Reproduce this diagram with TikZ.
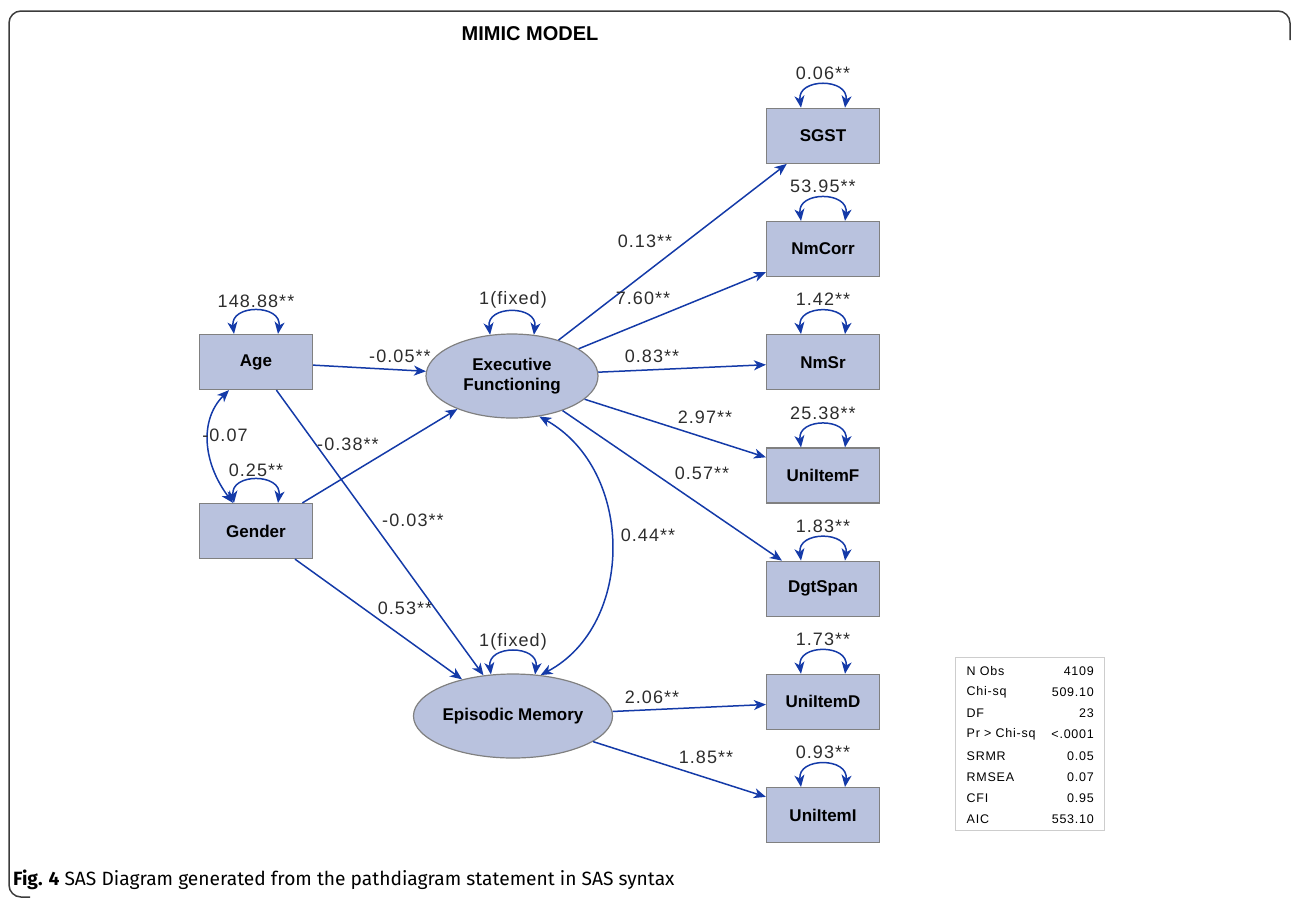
\documentclass[tikz,border=0pt]{standalone}
\usepackage{fontspec}
\setmainfont{Liberation Sans}
\newfontfamily\capfont{Fira Sans}
\usetikzlibrary{arrows.meta,shapes.geometric}
\definecolor{boxfill}{RGB}{185,194,222}
\definecolor{boxline}{RGB}{128,128,128}
\definecolor{pathblue}{RGB}{20,58,168}
\definecolor{labgray}{RGB}{45,45,45}
\definecolor{framecol}{RGB}{60,60,60}
\definecolor{tabline}{RGB}{205,205,205}
\tikzset{
  obsbox/.style={draw=boxline, fill=boxfill, line width=1.2pt, minimum width=113pt, minimum height=55pt, inner sep=0pt, font=\fontsize{17}{20}\selectfont\bfseries},
  latent/.style={draw=boxline, fill=boxfill, line width=1.2pt, ellipse, minimum width=172pt, minimum height=84pt, inner sep=0pt, align=center, font=\fontsize{17}{20}\selectfont\bfseries},
  tipb/.tip={Stealth[length=12pt,width=10pt,inset=3.5pt]},
  pth/.style={draw=pathblue, line width=1.5pt, -tipb},
  cov/.style={draw=pathblue, line width=1.5pt, tipb-tipb},
  lab/.style={font=\fontsize{18}{20}\selectfont\addfontfeatures{LetterSpace=6}, text=labgray, inner sep=0pt},
  tab/.style={font=\fontsize{12.5}{14}\selectfont\addfontfeatures{LetterSpace=6}, text=black, inner sep=0pt},
}
\begin{document}
\begin{tikzpicture}[x=1pt,y=-1pt]
\useasboundingbox (0,0) rectangle (1292,898);
% frame
\draw[framecol, line width=1.5pt, rounded corners=12pt] (30,897) -- (9,897) -- (9,11) -- (1290,11) -- (1290,40);
% title
\node[font=\fontsize{20}{22}\selectfont\bfseries] (title) at (530,34) {MIMIC MODEL};

% nodes
\node[obsbox] (age) at (256,362) {Age};
\node[obsbox] (gender) at (256,531) {Gender};
\node[latent] (ef) at (512,376) {Executive\\Functioning};
\node[latent, minimum width=170pt] (em) at (513,716) {Episodic Memory};
\node[obsbox] (sgst) at (823,135.8) {SGST};
\node[obsbox] (nmcorr) at (823,249) {NmCorr};
\node[obsbox] (nmsr) at (823,362.2) {NmSr};
\node[obsbox] (uf) at (823,475.5) {UniItemF};
\node[obsbox] (dgt) at (823,588.7) {DgtSpan};
\node[obsbox] (ud) at (823,701.9) {UniItemD};
\node[obsbox] (ui) at (823,815.1) {UniItemI};

% paths
\draw[pth] (age) -- (ef);
\draw[pth] (age) -- (em);
\draw[pth] (gender) -- (ef);
\draw[pth] (gender) -- (em);
\draw[pth] (ef) -- (sgst);
\draw[pth] (ef) -- (nmcorr);
\draw[pth] (ef) -- (nmsr);
\draw[pth] (ef) -- (uf);
\draw[pth] (ef) -- (dgt);
\draw[pth] (em) -- (ud);
\draw[pth] (em) -- (ui);

% covariances
\draw[cov] ([xshift=-27pt]age.south) .. controls +(-30,30) and +(-30,-40) .. ([xshift=-23pt]gender.north);
\draw[cov] (ef.-56) .. controls (635,470) and (635,625) .. (em.56);

% self loops
\foreach \n in {age,gender,sgst,nmcorr,nmsr,uf,dgt,ud,ui}{
  \draw[cov] ([xshift=-22pt]\n.north) .. controls +(-4,-30) and +(4,-30) .. ([xshift=22pt]\n.north);
}
\draw[cov] (ef.118) .. controls +(-4,-30) and +(4,-30) .. (ef.62);
\draw[cov] (em.118) .. controls +(-4,-30) and +(4,-30) .. (em.62);

% loop labels
\node[lab] (l1) at (256,301) {148.88**};
\node[lab] (l2) at (256,470) {0.25**};
\node[lab] (l3) at (513,300) {1(fixed)};
\node[lab] (l4) at (513,642) {1(fixed)};
\node[lab] (l5) at (823,73) {0.06**};
\node[lab] (l6) at (823,186) {53.95**};
\node[lab] (l7) at (823,299) {1.42**};
\node[lab] (l8) at (823,413) {25.38**};
\node[lab] (l9) at (823,526) {1.83**};
\node[lab] (l10) at (823,639) {1.73**};
\node[lab] (l11) at (823,752) {0.93**};

% path labels
\node[lab] (p1) at (400,356) {-0.05**};
\node[lab] (p2) at (225,435) {-0.07};
\node[lab] (p3) at (348,444) {-0.38**};
\node[lab] (p4) at (413,520) {-0.03**};
\node[lab] (p5) at (405,608) {0.53**};
\node[lab] (p6) at (645,241) {0.13**};
\node[lab] (p7) at (643,298) {7.60**};
\node[lab] (p8) at (652,356) {0.83**};
\node[lab] (p9) at (705,417) {2.97**};
\node[lab] (p10) at (702,473) {0.57**};
\node[lab] (p11) at (648,535) {0.44**};
\node[lab] (p12) at (652,697) {2.06**};
\node[lab] (p13) at (706,757) {1.85**};

% fit table
\draw[tabline, line width=1pt, fill=white] (955.5,657) rectangle (1104,830);
\foreach \k/\v [count=\i from 0] in {N Obs/4109, Chi-sq/509.10, DF/23, Pr > Chi-sq/<.0001, SRMR/0.05, RMSEA/0.07, CFI/0.95, AIC/553.10}{
  \node[tab, anchor=west] (tk\i) at (966.5,671+21.2*\i) {\k};
  \node[tab, anchor=east] (tv\i) at (1094,671+21.2*\i) {\v};
}

% caption
\node[anchor=west, font=\capfont\fontsize{19.2}{22}\selectfont, inner sep=0pt] (cap) at (13,880) {\textbf{Fig. 4} SAS Diagram generated from the pathdiagram statement in SAS syntax};
\end{tikzpicture}
\end{document}
